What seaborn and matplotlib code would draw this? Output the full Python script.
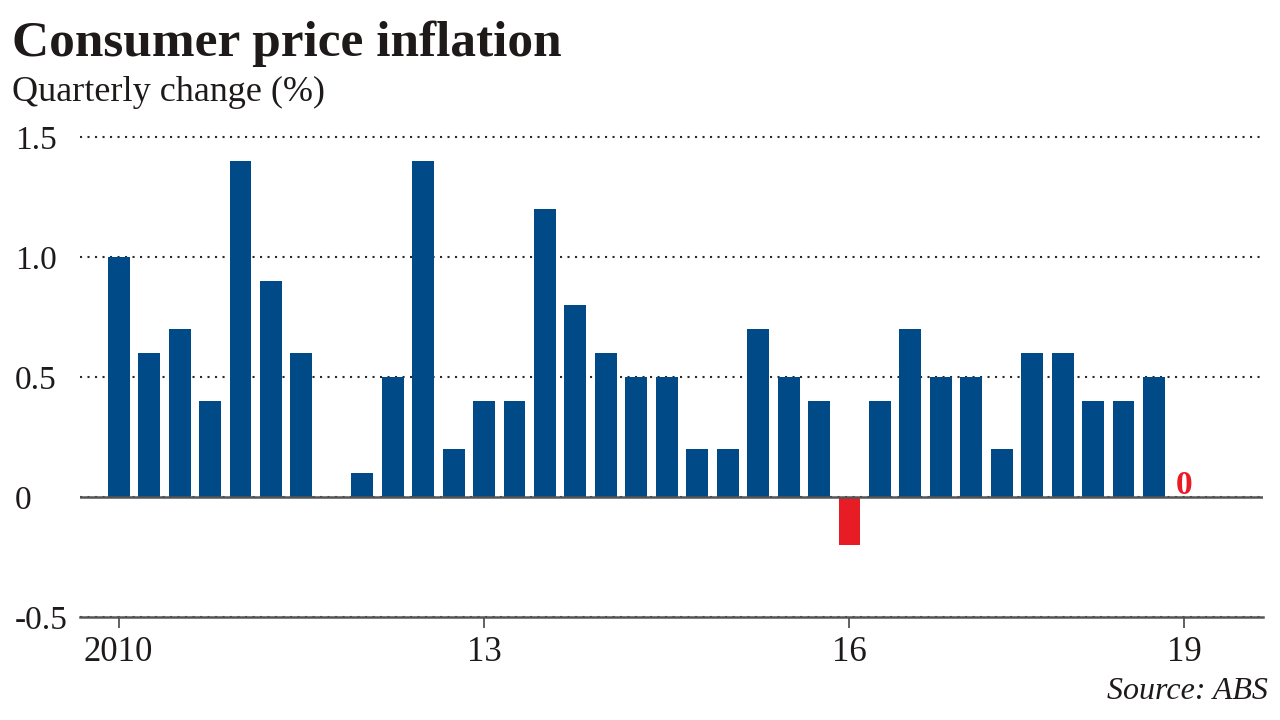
import matplotlib.pyplot as plt
import pandas as pd
import seaborn as sns

QUARTERS = [
    '2010Q1', '2010Q2', '2010Q3', '2010Q4',
    '2011Q1', '2011Q2', '2011Q3', '2011Q4',
    '2012Q1', '2012Q2', '2012Q3', '2012Q4',
    '2013Q1', '2013Q2', '2013Q3', '2013Q4',
    '2014Q1', '2014Q2', '2014Q3', '2014Q4',
    '2015Q1', '2015Q2', '2015Q3', '2015Q4',
    '2016Q1', '2016Q2', '2016Q3', '2016Q4',
    '2017Q1', '2017Q2', '2017Q3', '2017Q4',
    '2018Q1', '2018Q2', '2018Q4',
    '2019Q1',
]
CHANGE = [
    1.0, 0.6, 0.7, 0.4,
    1.4, 0.9, 0.6, 0.0,
    0.1, 0.5, 1.4, 0.2,
    0.4, 0.4, 1.2, 0.8,
    0.6, 0.5, 0.5, 0.2,
    0.2, 0.7, 0.5, 0.4,
    -0.2, 0.4, 0.7, 0.5,
    0.5, 0.2, 0.6, 0.6,
    0.4, 0.4, 0.5,
    0.0,
]
XTICK_QUARTERS = ['2010Q1', '2013Q1', '2016Q1', '2019Q1']
XTICK_LABELS = ['2010', '13', '16', '19']
YTICKS = [-0.5, 0, 0.5, 1.0, 1.5]
YTICK_LABELS = ['-0.5', '0', '0.5', '1.0', '1.5']

BLUE = '#004a87'
RED = '#e81c25'
INK = '#1e1a1a'
AXIS = '#555555'

sns.set_theme(style='white')
plt.rcParams['font.family'] = ['Liberation Serif', 'DejaVu Serif']

df = pd.DataFrame({'quarter': QUARTERS, 'change': CHANGE})
df['sign'] = ['down' if v < 0 else 'up' for v in df['change']]

fig = plt.figure(figsize=(12.8, 7.2), dpi=100)
ax = fig.add_axes([80 / 1280, 103 / 720, 1183 / 1280, 482 / 720])

sns.barplot(data=df, x='quarter', y='change', hue='sign',
            palette={'up': BLUE, 'down': RED}, dodge=False, width=0.72,
            saturation=1, linewidth=0, legend=False, ax=ax)

ax.set_ylim(-0.5, 1.51)
ax.set_xlim(-1.27, 37.58)
ax.set_xlabel('')
ax.set_ylabel('')

# dotted gridlines, solid zero line
ax.set_yticks(YTICKS)
ax.set_yticklabels(YTICK_LABELS)
ax.grid(axis='y', color='#2a2a2a', linestyle=(0, (1, 2.6)), linewidth=1.5)
ax.grid(axis='x', visible=False)
ax.axhline(0, color=AXIS, linewidth=1.8, zorder=3)

for side in ['top', 'right', 'left']:
    ax.spines[side].set_visible(False)
ax.spines['bottom'].set_color(AXIS)
ax.spines['bottom'].set_linewidth(1.8)
ax.spines['bottom'].set_zorder(4)

ax.tick_params(axis='y', length=0, pad=46.8, labelsize=24, labelcolor=INK)
for lbl in ax.get_yticklabels():
    lbl.set_horizontalalignment('left')

xpos = [QUARTERS.index(q) for q in XTICK_QUARTERS]
ax.set_xticks(xpos)
ax.set_xticklabels(XTICK_LABELS)
ax.tick_params(axis='x', bottom=True, direction='out', length=8, width=1.3,
               color=AXIS, pad=6, labelsize=25, labelcolor=INK)

# latest value label
last = len(CHANGE) - 1
ax.text(last, 0.012, f'{CHANGE[last]:g}', color=RED, ha='center',
        va='baseline', fontsize=24, fontweight='bold')

fig.text(12 / 1280, 1 - 56 / 720, 'Consumer price inflation', fontsize=37,
         fontweight='bold', color=INK, va='baseline', ha='left')
fig.text(12 / 1280, 1 - 101 / 720, 'Quarterly change (%)', fontsize=26,
         color=INK, va='baseline', ha='left')
fig.text(1268 / 1280, 1 - 699 / 720, 'Source: ABS', fontsize=23,
         fontstyle='italic', color=INK, va='baseline', ha='right')

fig.savefig('out.png', dpi=100, facecolor='white')
